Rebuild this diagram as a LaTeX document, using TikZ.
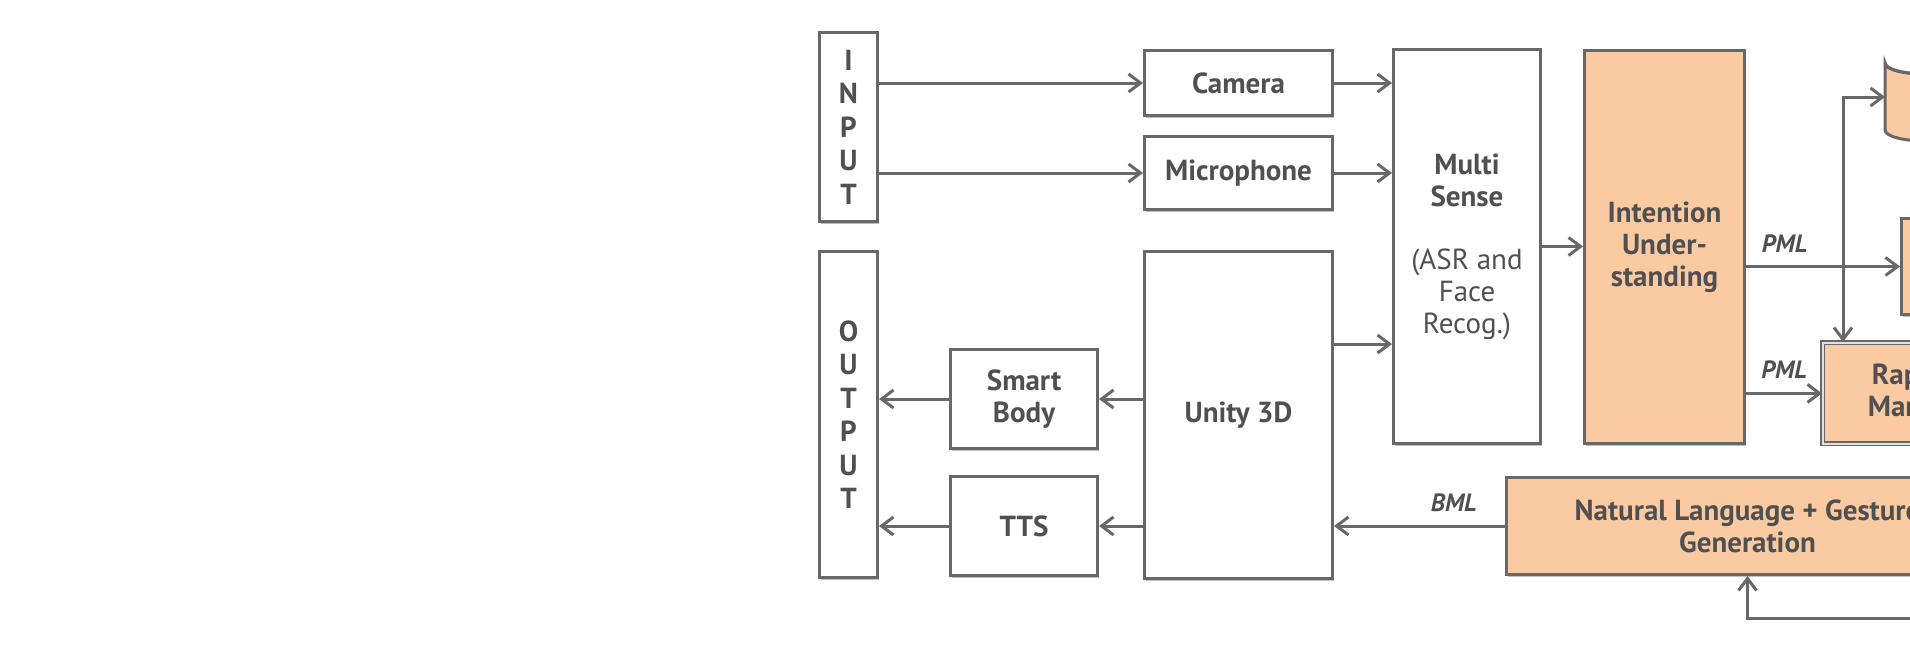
\documentclass[tikz,border=0pt]{standalone}
\usepackage{fontspec}
\setmainfont{PT Sans}
\usepackage{tikz}
\usetikzlibrary{arrows.meta,shadows,calc}
\definecolor{myline}{RGB}{104,104,104}
\definecolor{mytext}{RGB}{80,80,80}
\definecolor{mypeach}{RGB}{250,203,163}
\tikzset{every picture/.style={line width=3pt}}
\tikzset{
  barb/.tip={Straight Barb[length=12pt,width=18pt,line width=3pt]},
  blk/.style={draw=myline, fill=white, anchor=north west, align=center, inner sep=0pt,
    text=mytext, font=\fontsize{29}{32}\selectfont\bfseries,
    drop shadow={shadow xshift=1pt, shadow yshift=-2pt, opacity=0.25, fill=black}},
  pblk/.style={blk, fill=mypeach},
  iobox/.style={blk, font=\fontsize{29}{33.5}\selectfont\bfseries},
  arr/.style={draw=myline, -barb},
  lbl/.style={text=mytext, font=\fontsize{25}{28}\selectfont\bfseries\itshape, above, inner sep=13pt}
}

\begin{document}
\begin{tikzpicture}[x=1pt,y=1pt,yscale=-1,xscale=1]
\useasboundingbox (0,0) rectangle (1910,662);
\clip (0,0) rectangle (1910,662);

%Shape: Rectangle [input / output]
\node[iobox, minimum width=58, minimum height=189] (input) at (818,31) {I\\N\\P\\U\\T};
\node[iobox, minimum width=58, minimum height=326] (output) at (818,250) {O\\U\\T\\P\\U\\T};
%Shape: Rectangle [sensors]
\node[blk, minimum width=188, minimum height=65] (camera) at (1143,49) {Camera};
\node[blk, minimum width=188, minimum height=73] (mic) at (1143,135) {Microphone};
%Shape: Rectangle [renderers]
\node[blk, minimum width=188, minimum height=327] (unity) at (1143,250) {Unity 3D};
\node[blk, minimum width=147, minimum height=99] (smart) at (949,348) {Smart\\Body};
\node[blk, minimum width=147, minimum height=99] (tts) at (949,475) {TTS};
%Shape: Rectangle [multisense]
\node[blk, minimum width=147, minimum height=394] (ms) at (1392,48)
  {Multi\\Sense\\[31pt]\mdseries(ASR and\\\mdseries Face\\\mdseries Recog.)};
%Shape: Rectangle [understanding]
\node[pblk, minimum width=160, minimum height=393] (iu) at (1583,49) {Intention\\Under-\\standing};
%Shape: Rectangle [generation]
\node[pblk, minimum width=482, minimum height=97] (nlg) at (1505,476) {Natural Language + Gesture\\Generation};
%Shape: Rectangle [rapport]
\node[pblk, minimum width=198, minimum height=101, double=white!80!myline, double distance=1.5pt, line width=1.8pt] (rap) at (1822,342) {Rapport\\Manager};
%Shape: Rectangle [right box]
\node[pblk, minimum width=100, minimum height=96] (sel) at (1900,217) {};
%Shape: Can [store]
\draw[draw=myline, fill=mypeach] (1885,63) -- (1885,130) arc[start angle=180, end angle=0, x radius=40, y radius=11]
  -- (1965,63) arc[start angle=0, end angle=180, x radius=40, y radius=11] -- cycle;
\draw[draw=myline] (1885,63) arc[start angle=180, end angle=0, x radius=40, y radius=11];
\coordinate (db) at (1885,97);
\coordinate (fbin) at (1920,618);

%Straight Lines [input side]
\draw[arr] (input.east |- camera.west) -- (camera.west);
\draw[arr] (input.east |- mic.west) -- (mic.west);
\draw[arr] (camera.east) -- (ms.west |- camera.east);
\draw[arr] (mic.east) -- (ms.west |- mic.east);
\draw[arr] ($(unity.north east)!0.285!(unity.south east)$) -- (ms.west |- {$(unity.north east)!0.285!(unity.south east)$});
\draw[arr] (ms.east) -- (iu.west |- ms.east);
%Straight Lines [output side]
\draw[arr] (unity.west |- smart.east) -- (smart.east);
\draw[arr] (unity.west |- tts.east) -- (tts.east);
\draw[arr] (smart.west) -- (output.east |- smart.west);
\draw[arr] (tts.west) -- (output.east |- tts.west);
%Straight Lines [messages]
\draw[arr] (iu.east |- sel.west) -- node[lbl, pos=0.25] {PML} (sel.west);
\draw[arr] (iu.east |- rap.west) -- node[lbl] {PML} (rap.west);
\draw[arr] (nlg.west) -- node[lbl, pos=0.3] {BML} (unity.east |- nlg.west);
\draw[draw=myline, barb-barb] (db) -| ([xshift=21pt]rap.north west);
\draw[arr] (fbin) -| (nlg.south);

\end{tikzpicture}
\end{document}
